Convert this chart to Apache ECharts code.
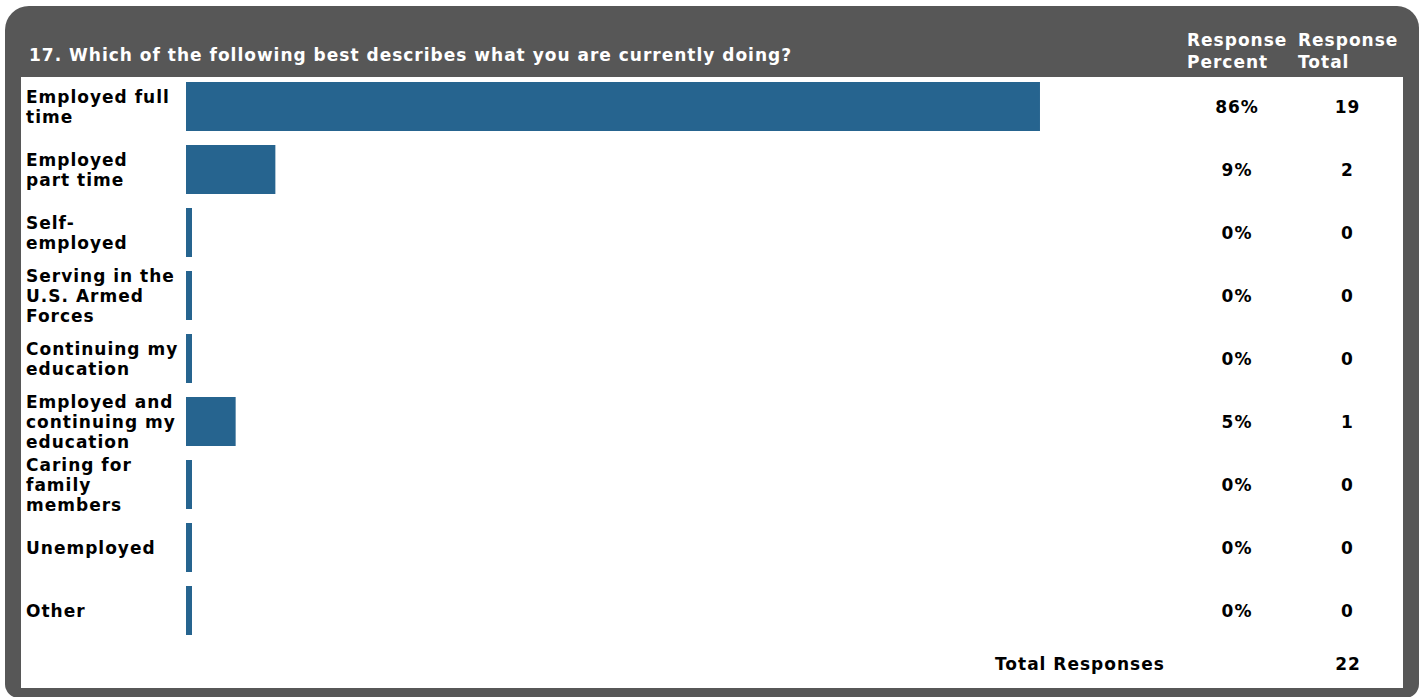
<!DOCTYPE html>
<html>
<head>
<meta charset="utf-8">
<script src="https://cdn.jsdelivr.net/npm/echarts@6/dist/echarts.min.js"></script>
<style>
html,body{margin:0;padding:0;background:#ffffff;}
#chart{width:1422px;height:697px;letter-spacing:1px;}
</style>
</head>
<body>
<div id="chart"></div>
<script>
// ---- data ----
const questionTitle = '17. Which of the following best describes what you are currently doing?';
const categories = [
  'Employed full\ntime',
  'Employed\npart time',
  'Self-\nemployed',
  'Serving in the\nU.S. Armed\nForces',
  'Continuing my\neducation',
  'Employed and\ncontinuing my\neducation',
  'Caring for\nfamily\nmembers',
  'Unemployed',
  'Other'
];
const responsePercent = [86, 9, 0, 0, 0, 5, 0, 0, 0];
const responseTotal = [19, 2, 0, 0, 0, 1, 0, 0, 0];
const columnHeaders = ['Response\nPercent', 'Response\nTotal'];
const totalLabel = 'Total Responses';
const totalResponses = 22;

// ---- style ----
const FONT = '"DejaVu Sans", Verdana, sans-serif';
const FRAME = '#575757';
const BAR = '#26648f';

const chart = echarts.init(document.getElementById('chart'), null, {renderer: 'svg'});

chart.setOption({
  animation: false,
  title: {
    text: questionTitle,
    left: 24,
    top: 41,
    textStyle: {color: '#ffffff', fontFamily: FONT, fontSize: 17, fontWeight: 'bold', lineHeight: 18}
  },
  grid: {left: 186, right: 243, top: 75, height: 567},
  xAxis: {type: 'value', min: 0, max: 100, show: false},
  yAxis: [
    {
      type: 'category',
      data: categories,
      inverse: true,
      axisLine: {show: false},
      axisTick: {show: false},
      splitLine: {show: false},
      axisLabel: {
        align: 'left',
        margin: 160,
        color: '#000000',
        fontFamily: FONT,
        fontSize: 17,
        fontWeight: 'bold',
        lineHeight: 20
      }
    },
    {
      type: 'category',
      data: categories,
      inverse: true,
      position: 'right',
      axisLine: {show: false},
      axisTick: {show: false},
      splitLine: {show: false},
      axisLabel: {
        align: 'left',
        margin: 0,
        formatter: function (value, index) {
          return '{p|' + responsePercent[index] + '%}{t|' + responseTotal[index] + '}';
        },
        rich: {
          p: {width: 116, align: 'center', color: '#000000', fontFamily: FONT, fontSize: 17, fontWeight: 'bold'},
          t: {width: 105, align: 'center', color: '#000000', fontFamily: FONT, fontSize: 17, fontWeight: 'bold'}
        }
      }
    }
  ],
  series: [{
    type: 'bar',
    data: responsePercent,
    yAxisIndex: 0,
    barWidth: 49,
    barMinHeight: 6,
    itemStyle: {color: BAR},
    emphasis: {disabled: true}
  }],
  graphic: {
    elements: [
      {type: 'rect', z: -10, shape: {x: 5, y: 6, width: 1414, height: 692, r: [24, 22, 14, 14]}, style: {fill: FRAME}},
      {type: 'rect', z: -9, shape: {x: 21, y: 77, width: 1382, height: 611}, style: {fill: '#ffffff'}},
      {type: 'text', z: 5, x: 1187, y: 51, style: {text: columnHeaders[0], fill: '#ffffff', font: 'bold 17px ' + FONT, lineHeight: 21.5, verticalAlign: 'middle', align: 'left'}},
      {type: 'text', z: 5, x: 1298, y: 51, style: {text: columnHeaders[1], fill: '#ffffff', font: 'bold 17px ' + FONT, lineHeight: 21.5, verticalAlign: 'middle', align: 'left'}},
      {type: 'text', z: 5, x: 995, y: 664, style: {text: totalLabel, fill: '#000000', font: 'bold 17px ' + FONT, verticalAlign: 'middle', align: 'left'}},
      {type: 'text', z: 5, x: 1348, y: 664, style: {text: String(totalResponses), fill: '#000000', font: 'bold 17px ' + FONT, verticalAlign: 'middle', align: 'center'}}
    ]
  }
});
</script>
</body>
</html>
